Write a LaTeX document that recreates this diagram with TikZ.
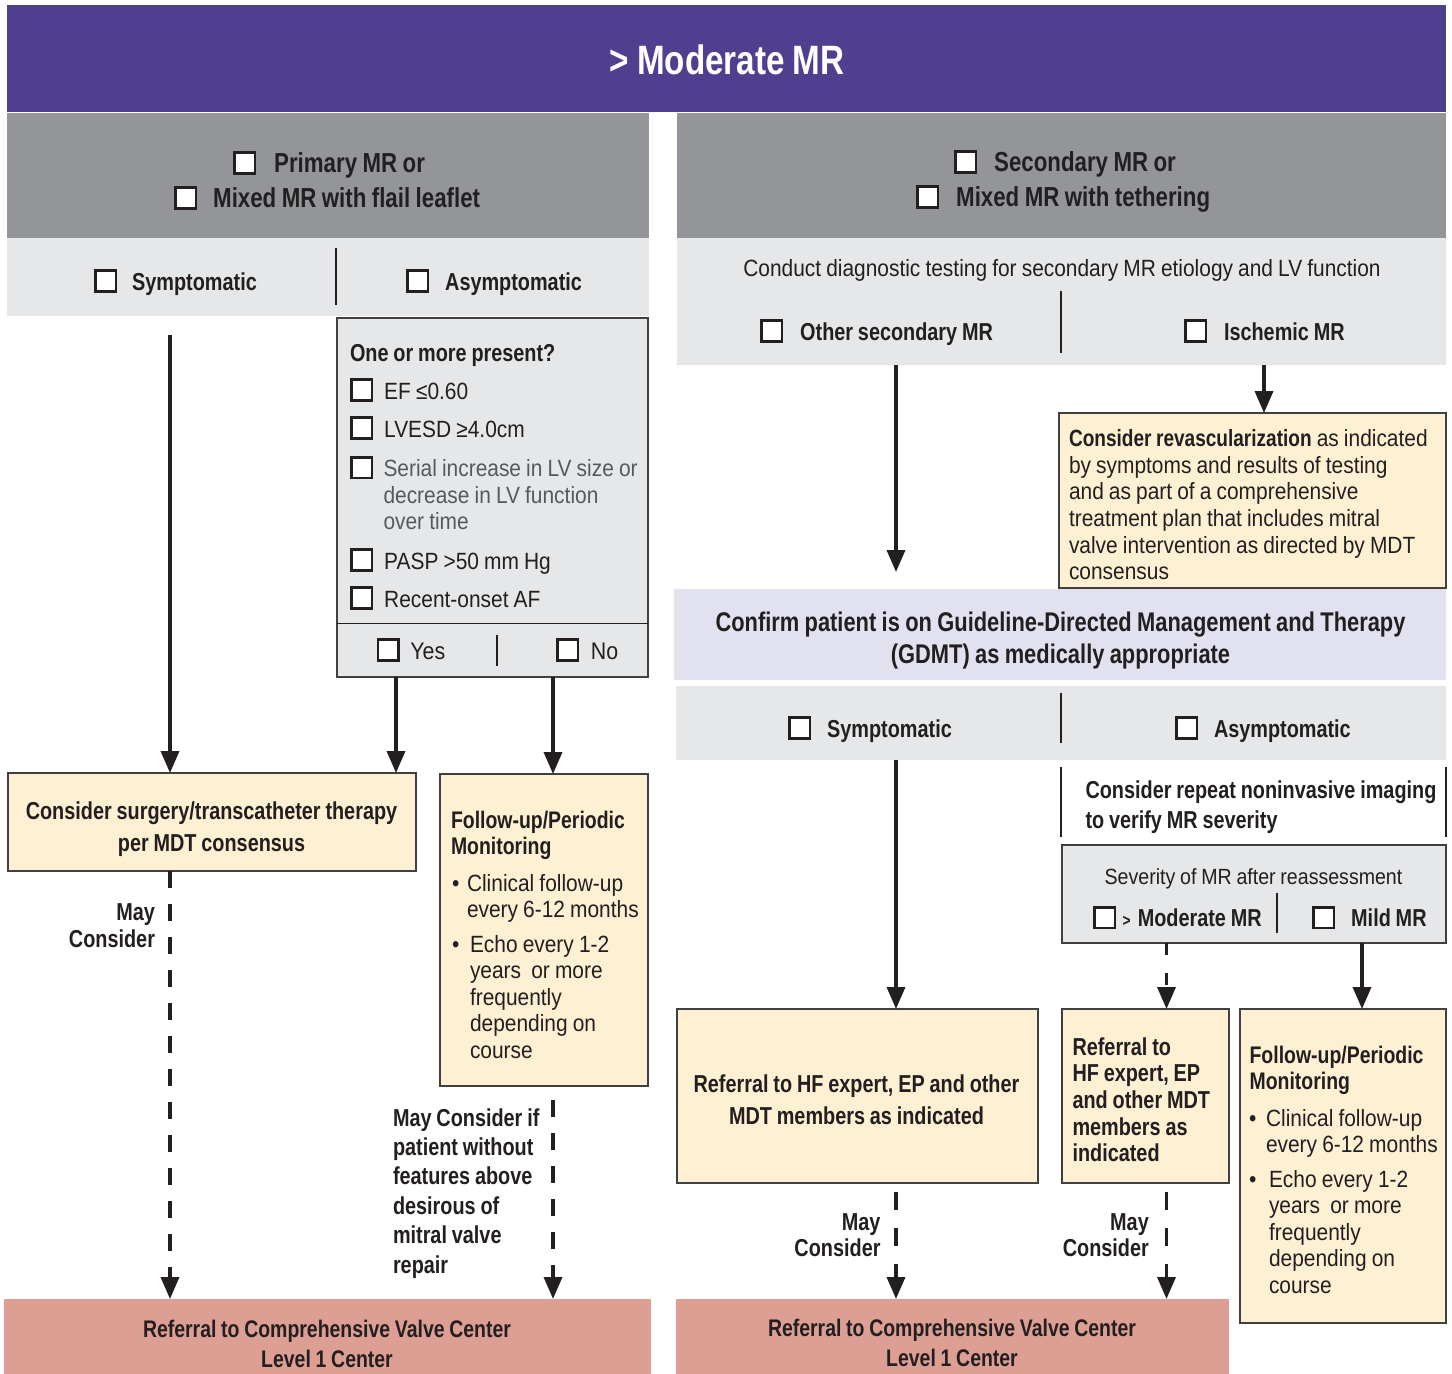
\documentclass[tikz,border=0pt]{standalone}
\usepackage{fontspec}
\setmainfont{Liberation Sans}[UprightFeatures={FakeStretch=0.89},BoldFeatures={FakeStretch=0.81},WordSpace={0.88}]
\usetikzlibrary{arrows.meta}
\definecolor{hdrc}{HTML}{4F3F8E}
\definecolor{grayc}{HTML}{939598}
\definecolor{lgray}{HTML}{E6E7E8}
\definecolor{cream}{HTML}{FEF0D2}
\definecolor{lav}{HTML}{E2E1EF}
\definecolor{salmon}{HTML}{DD9F94}
\definecolor{ink}{HTML}{231F20}
\definecolor{edge}{HTML}{404041}
\definecolor{soft}{HTML}{58595B}
\newcommand\cbx{\raisebox{0pt}{\setlength\fboxsep{0pt}\setlength\fboxrule{2.6pt}\fbox{\textcolor{white}{\rule{18pt}{18pt}}}}}
\newcommand\fR{\fontsize{23.5}{26.6}\selectfont}
\newcommand\fB{\bfseries\fontsize{24.5}{30}\selectfont}
\newcommand\fH{\bfseries\fontsize{27.5}{31}\selectfont}
\begin{document}
\begin{tikzpicture}[x=1pt,y=-1pt,
  pan/.style={anchor=north west, inner sep=0pt, outer sep=0pt, draw=none},
  brd/.style={pan, draw=edge, line width=1.8pt},
  tx/.style={inner sep=0pt, outer sep=0pt, text=ink, font=\fR},
  tb/.style={tx, font=\fB},
  th/.style={tx, font=\fH, anchor=base west},
  divl/.style={draw=ink, line width=1.8pt},
  arr/.style={draw=ink, line width=3.5pt, -{Triangle[width=18pt,length=22pt]}},
  darr/.style={arr, dash pattern=on 17pt off 16pt}]
\useasboundingbox (0,0) rectangle (1452,1374);
% ---------- panels ----------
\node[pan, fill=hdrc, minimum width=1439pt, minimum height=107pt] (hdr) at (7,5) {};
\node[pan, fill=grayc, minimum width=642pt, minimum height=125pt] (gL) at (7,113) {};
\node[pan, fill=grayc, minimum width=769pt, minimum height=125pt] (gR) at (677,113) {};
\node[pan, fill=lgray, minimum width=642pt, minimum height=78pt] (rowL) at (7,238) {};
\node[brd, fill=lgray, minimum width=311pt, minimum height=359pt] (crit) at (337,318) {};
\node[brd, fill=cream, minimum width=408pt, minimum height=98pt] (surg) at (8,773) {};
\node[brd, fill=cream, minimum width=208pt, minimum height=312pt] (fuL) at (440,774) {};
\node[pan, fill=salmon, minimum width=647pt, minimum height=75pt] (refL) at (4,1299) {};
\node[pan, fill=lgray, minimum width=769pt, minimum height=127pt] (rowR) at (677,238) {};
\node[brd, fill=cream, minimum width=387pt, minimum height=175pt] (revasc) at (1059,413) {};
\node[pan, fill=lav, minimum width=772pt, minimum height=91pt] (gdmt) at (674,589) {};
\node[pan, fill=lgray, minimum width=770pt, minimum height=74pt] (row2) at (676,686) {};
\node[brd, fill=lgray, minimum width=384pt, minimum height=98pt] (sev) at (1062,845) {};
\node[brd, fill=cream, minimum width=361pt, minimum height=174pt] (hfA) at (677,1009) {};
\node[brd, fill=cream, minimum width=167pt, minimum height=174pt] (hfB) at (1062,1009) {};
\node[brd, fill=cream, minimum width=206pt, minimum height=314pt] (fuR) at (1240,1009) {};
\node[pan, fill=salmon, minimum width=553pt, minimum height=75pt] (refR) at (676,1299) {};
% ---------- dividers ----------
\draw[divl] (336,248) -- (336,305);
\draw[divl] (337,623.5) -- (648,623.5);
\draw[divl] (497,634.6) -- (497,666);
\draw[divl] (1061,291) -- (1061,353);
\draw[divl] (1061,693) -- (1061,743);
\draw[divl] (1061,767) -- (1061,837);
\draw[divl] (1446,767) -- (1446,837);
\draw[divl] (1277,893) -- (1277,933);
% ---------- header ----------
\node[tx, anchor=base, text=white, font=\bfseries\fontsize{41}{45}\selectfont] (hdrT) at (727,74.5) {> Moderate MR};
\node[th] (pL1) at (233,172) {\cbx\hspace{18pt}Primary MR or};
\node[th] (pL2) at (174,207) {\cbx\hspace{16pt}Mixed MR with flail leaflet};
\node[th] (pR1) at (954,171) {\cbx\hspace{17pt}Secondary MR or};
\node[th] (pR2) at (916,206) {\cbx\hspace{17pt}Mixed MR with tethering};
% ---------- left column ----------
\node[tb, anchor=base west] (symL) at (94,290) {\cbx\hspace{15pt}Symptomatic};
\node[tb, anchor=base west] (asyL) at (406,290) {\cbx\hspace{16pt}Asymptomatic};
\node[tb, anchor=base west] (q) at (350,361) {One or more present?};
\node[tx, anchor=base west] (c1) at (350,399) {\cbx\hspace{11pt}EF ≤0.60};
\node[tx, anchor=base west] (c2) at (350,437) {\cbx\hspace{11pt}LVESD ≥4.0cm};
\node[tx, anchor=base west] (c3b) at (350,476.6) {\cbx};
\node[tx, anchor=base west, text=soft, text width=270pt, align=flush left] (c3) at (383.5,476.6) {Serial increase in LV size or\\decrease in LV function\\over time};
\node[tx, anchor=base west] (c4) at (350,569) {\cbx\hspace{11pt}PASP >50 mm Hg};
\node[tx, anchor=base west] (c5) at (350,607) {\cbx\hspace{11pt}Recent-onset AF};
\node[tx, anchor=base west, font=\fontsize{24}{27}\selectfont] (yes) at (376.7,659) {\cbx\hspace{10.5pt}Yes};
\node[tx, anchor=base west, font=\fontsize{24}{27}\selectfont] (no) at (556,659) {\cbx\hspace{11.7pt}No};
\node[tb, anchor=base, text width=400pt, align=flush center, font=\bfseries\fontsize{24.5}{32}\selectfont] (surgT) at (211.5,819) {Consider surgery/transcatheter therapy\\per MDT consensus};
\node[tb, anchor=base west, text width=200pt, align=flush left, font=\bfseries\fontsize{24}{25.5}\selectfont] (fuLT) at (451,828.5) {Follow-up/Periodic\\Monitoring};
\node[tx, anchor=base west] (fuLb1) at (452,891) {•};
\node[tx, anchor=base west, text width=190pt, align=flush left, font=\fontsize{23.5}{26}\selectfont] (fuL1) at (467,891) {Clinical follow-up\\every 6-12 months};
\node[tx, anchor=base west] (fuLb2) at (452,952) {•};
\node[tx, anchor=base west, text width=180pt, align=flush left] (fuL2) at (470,952) {Echo every 1-2\\years\ \ or more\\frequently\\depending on\\course};
\node[tb, anchor=base east, text width=120pt, align=flush right, font=\bfseries\fontsize{24.5}{26.5}\selectfont] (mcL) at (155,920.5) {May\\Consider};
\node[tb, anchor=base west, text width=170pt, align=flush left, font=\bfseries\fontsize{24.5}{29.4}\selectfont] (mcL2) at (393,1126) {May Consider if\\patient without\\features above\\desirous of\\mitral valve\\repair};
\node[tb, anchor=base, text width=600pt, align=flush center, font=\bfseries\fontsize{24}{29.5}\selectfont] (refLT) at (327,1337.5) {Referral to Comprehensive Valve Center\\Level 1 Center};
% ---------- right column ----------
\node[tx, anchor=base] (cond) at (1062,276) {Conduct diagnostic testing for secondary MR etiology and LV function};
\node[tb, anchor=base west] (oth) at (760,340) {\cbx\hspace{17pt}Other secondary MR};
\node[tb, anchor=base west] (isc) at (1184,340) {\cbx\hspace{16.8pt}Ischemic MR};
\node[tx, anchor=base west, text width=385pt, align=flush left] (revT) at (1069,446.7) {\textbf{Consider revascularization} as indicated\\by symptoms and results of testing\\and as part of a comprehensive\\treatment plan that includes mitral\\valve intervention as directed by MDT\\consensus};
\node[tb, anchor=base, text width=770pt, align=flush center, font=\bfseries\fontsize{27}{31.3}\selectfont] (gdmtT) at (1060.5,631.7) {Confirm patient is on Guideline-Directed Management and Therapy\\(GDMT) as medically appropriate};
\node[tb, anchor=base west] (symR) at (788,737) {\cbx\hspace{16pt}Symptomatic};
\node[tb, anchor=base west] (asyR) at (1175,737) {\cbx\hspace{15.8pt}Asymptomatic};
\node[tb, anchor=base west, text width=370pt, align=flush left, font=\bfseries\fontsize{24.5}{30}\selectfont] (rep) at (1085.5,798) {Consider repeat noninvasive imaging\\to verify MR severity};
\node[tx, anchor=base, font=\fontsize{22}{26}\selectfont] (sevT) at (1253.5,884) {Severity of MR after reassessment};
\node[tb, anchor=base west] (sevM) at (1093,926.7) {\cbx\hspace{6.5pt}{\fontsize{17}{20}\selectfont >}\hspace{7pt}Moderate MR};
\node[tb, anchor=base west] (sevL) at (1312,926.7) {\cbx\hspace{16pt}Mild MR};
\node[tb, anchor=base, text width=355pt, align=flush center, font=\bfseries\fontsize{24.5}{31.3}\selectfont] (hfAT) at (856.5,1092.7) {Referral to HF expert, EP and other\\MDT members as indicated};
\node[tb, anchor=base west, text width=160pt, align=flush left, font=\bfseries\fontsize{24.5}{26.7}\selectfont] (hfBT) at (1072.5,1055) {Referral to\\HF expert, EP\\and other MDT\\members as\\indicated};
\node[tb, anchor=base west, text width=200pt, align=flush left, font=\bfseries\fontsize{24}{26}\selectfont] (fuRT) at (1249.6,1063.3) {Follow-up/Periodic\\Monitoring};
\node[tx, anchor=base west] (fuRb1) at (1249,1126) {•};
\node[tx, anchor=base west, text width=190pt, align=flush left, font=\fontsize{23.5}{26.7}\selectfont] (fuR1) at (1266,1126) {Clinical follow-up\\every 6-12 months};
\node[tx, anchor=base west] (fuRb2) at (1249,1187.3) {•};
\node[tx, anchor=base west, text width=180pt, align=flush left, font=\fontsize{23.5}{26.5}\selectfont] (fuR2) at (1269,1187.3) {Echo every 1-2\\years\ \ or more\\frequently\\depending on\\course};
\node[tb, anchor=base east, text width=120pt, align=flush right, font=\bfseries\fontsize{24.5}{26.7}\selectfont] (mcR1) at (880.5,1230) {May\\Consider};
\node[tb, anchor=base east, text width=120pt, align=flush right, font=\bfseries\fontsize{24.5}{26.7}\selectfont] (mcR2) at (1148.8,1230) {May\\Consider};
\node[tb, anchor=base, text width=550pt, align=flush center, font=\bfseries\fontsize{24}{29.5}\selectfont] (refRT) at (952,1336.7) {Referral to Comprehensive Valve Center\\Level 1 Center};
% ---------- connector anchors ----------
\coordinate (sA) at (170,335);
\coordinate (xYes) at (396,0);
\coordinate (xNo) at (553,0);
\coordinate (sNo2) at (553,1100);
\coordinate (xO) at (896,0);
\coordinate (eO) at (896,572);
\coordinate (xI) at (1264,0);
\coordinate (xM) at (1166.5,0);
\coordinate (xMi) at (1362,0);
\coordinate (sO2) at (896,1192);
\coordinate (sM2) at (1166.5,1192);
% ---------- connectors ----------
\draw[arr] (sA) -- (sA |- surg.north);
\draw[arr] (crit.south -| xYes) -- (surg.north -| xYes);
\draw[arr] (crit.south -| xNo) -- (fuL.north -| xNo);
\draw[darr] (surg.south -| sA) -- (refL.north -| sA);
\draw[darr] (sNo2) -- (refL.north -| sNo2);
\draw[arr] (rowR.south -| xO) -- (eO);
\draw[arr] (rowR.south -| xI) -- (revasc.north -| xI);
\draw[arr] (row2.south -| xO) -- (hfA.north -| xO);
\draw[arr, dash pattern=on 12pt off 18pt] (sev.south -| xM) -- (hfB.north -| xM);
\draw[arr] (sev.south -| xMi) -- (fuR.north -| xMi);
\draw[darr, dash pattern=on 18pt off 18pt] (sO2) -- (refR.north -| sO2);
\draw[darr, dash pattern=on 18pt off 18pt] (sM2) -- (refR.north -| sM2);
\end{tikzpicture}
\end{document}
